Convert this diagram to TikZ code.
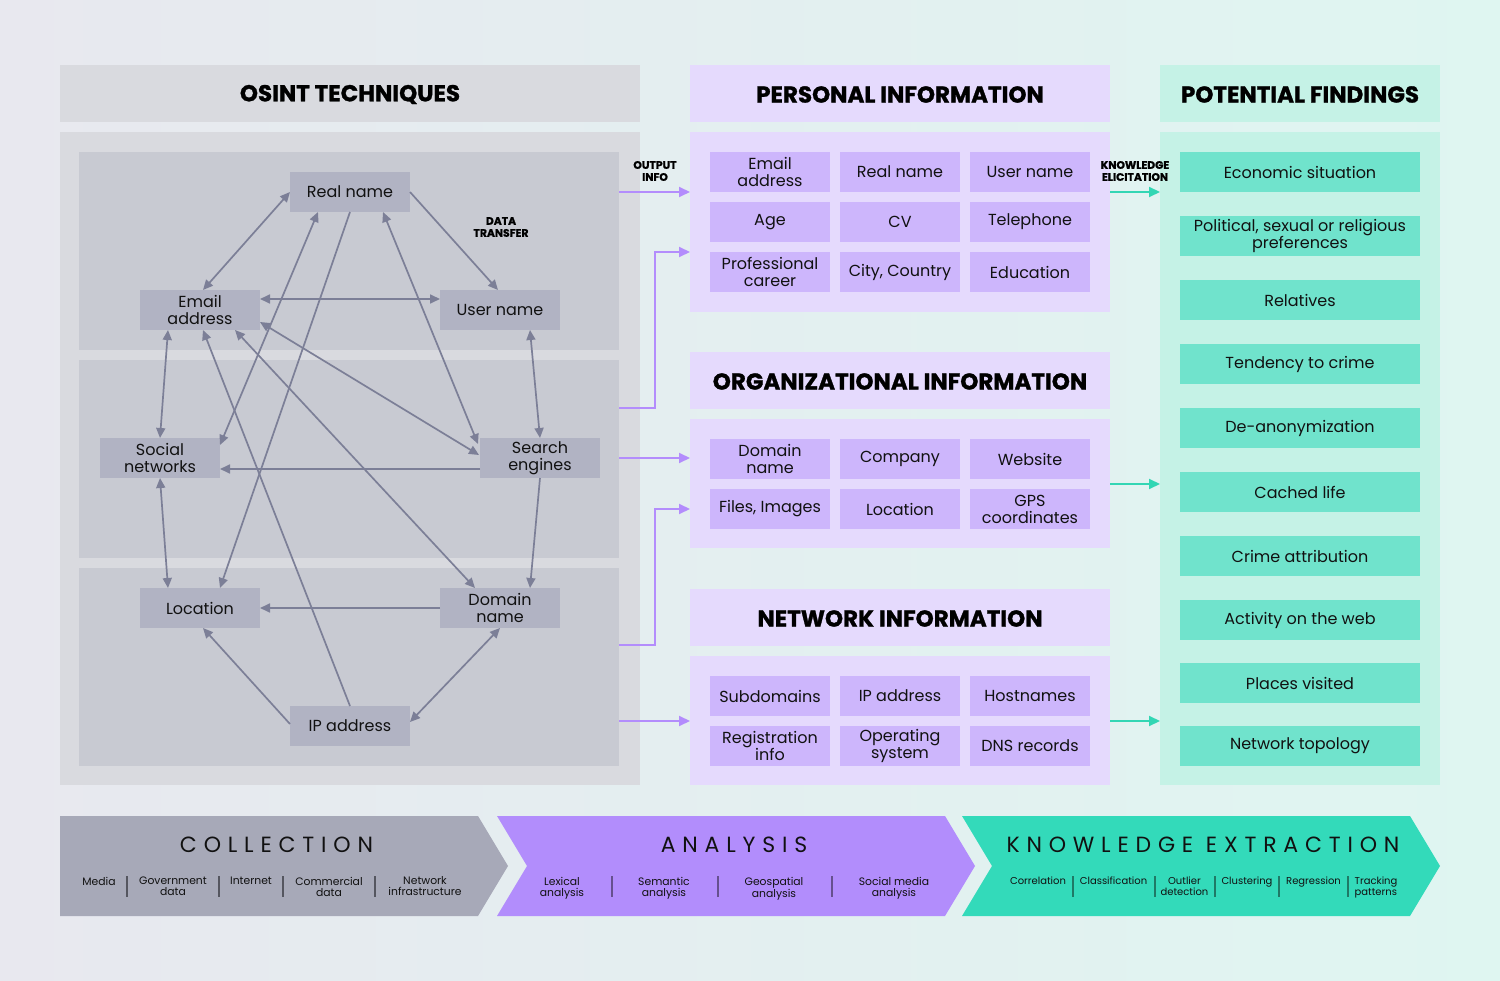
\documentclass[tikz,border=0pt]{standalone}
\usepackage{fontspec}
\setmainfont{Poppins}
\newfontfamily\spcfont{Poppins}[LetterSpace=31]
\newfontfamily\hdrfont{Poppins}[BoldFeatures={FakeBold=1.2}]
\usetikzlibrary{arrows.meta}
\definecolor{bgl}{HTML}{E8E8EF}
\definecolor{bgm}{HTML}{F0EBFC}
\definecolor{bgr}{HTML}{DFF6F1}
\definecolor{opanel}{HTML}{D9DADF}
\definecolor{osub}{HTML}{C8CAD2}
\definecolor{gnodec}{HTML}{B1B3C3}
\definecolor{gline}{HTML}{7C7F97}
\definecolor{ppanel}{HTML}{E5DAFD}
\definecolor{pcell}{HTML}{CDB6FC}
\definecolor{fpanel}{HTML}{C5F2E6}
\definecolor{fcell}{HTML}{70E3CC}
\definecolor{pline}{HTML}{B38DFC}
\definecolor{tline}{HTML}{33D6B4}
\definecolor{chgray}{HTML}{A7A9B8}
\definecolor{chpur}{HTML}{B28DFC}
\definecolor{chteal}{HTML}{33DABA}
\definecolor{sepgray}{HTML}{55565F}
\definecolor{seppur}{HTML}{66508F}
\definecolor{septeal}{HTML}{1F7A66}
\definecolor{txt}{HTML}{111111}
\begin{document}
\begin{tikzpicture}[x=1pt,y=-1pt,
  base/.style={inner sep=0pt, outer sep=0pt, align=center, text=txt},
  panel/.style={base, anchor=north west, fill=#1},
  hdr/.style={font=\hdrfont\fontsize{23}{25}\selectfont\bfseries, text=black},
  gn/.style={base, fill=gnodec, minimum width=120pt, minimum height=40pt, font=\fontsize{16}{17}\selectfont},
  pc/.style={gn, fill=pcell},
  fc/.style={base, fill=fcell, minimum width=240pt, minimum height=40pt, font=\fontsize{16}{17}\selectfont},
  garr/.style={draw=gline, line width=1.7pt, -{Triangle[length=10pt,width=9pt]}},
  garrb/.style={draw=gline, line width=1.7pt, {Triangle[length=10pt,width=9pt]}-{Triangle[length=10pt,width=9pt]}},
  parr/.style={draw=pline, line width=2pt, -{Triangle[length=11pt,width=10pt]}},
  tarr/.style={draw=tline, line width=2pt, -{Triangle[length=11pt,width=10pt]}},
  small/.style={base, font=\hdrfont\fontsize{10.8}{12}\selectfont\bfseries, text=black},
  sub/.style={base, anchor=north, font=\fontsize{10.8}{11}\selectfont},
  subk/.style={base, anchor=north, font=\fontsize{10}{11}\selectfont},
  ttl/.style={base, font=\spcfont\fontsize{22}{24}\selectfont}
]
\useasboundingbox (0,0) rectangle (1500,981);
\shade[left color=bgl, middle color=bgm, right color=bgr] (0,0) rectangle (1500,981);

% ---------- OSINT panel
\node[panel=opanel, minimum width=580pt, minimum height=57pt] (osh) at (60,65) {};
\node[base, hdr] at ([yshift=-1pt]osh.center) {OSINT TECHNIQUES};
\node[panel=opanel, minimum width=580pt, minimum height=653pt] (osb) at (60,132) {};
\node[panel=osub, minimum width=540pt, minimum height=198pt] (sp1) at (79,152) {};
\node[panel=osub, minimum width=540pt, minimum height=198pt] (sp2) at (79,360) {};
\node[panel=osub, minimum width=540pt, minimum height=198pt] (sp3) at (79,568) {};

% graph nodes
\node[gn] (rn) at (350,192) {Real name};
\node[gn] (ea) at (200,310) {Email\\address};
\node[gn] (un) at (500,310) {User name};
\node[gn] (sn) at (160,458) {Social\\networks};
\node[gn] (se) at (540,458) {Search\\engines};
\node[gn] (lo) at (200,608) {Location};
\node[gn] (dn) at (500,608) {Domain\\name};
\node[gn] (ip) at (350,726) {IP address};
\node[small] (dt) at (501,227) {DATA\\TRANSFER};

% graph edges
\draw[garrb] (rn.west) -- ([xshift=3pt]ea.north);
\draw[garr] (rn.east) -- ([xshift=-2pt]un.north);
\draw[garrb] ([yshift=11pt]ea.east) -- ([yshift=11pt]un.west);
\draw[garrb] ([yshift=-12pt]ea.east) -- ([yshift=3pt,xshift=-1pt]se.west);
\draw[garrb] ([xshift=33pt]rn.south) -- ([yshift=-6pt,xshift=-2pt]se.north west);
\draw[garrb] ([xshift=-32pt]rn.south) -- ([yshift=-7pt]sn.north east);
\draw[garr] (rn.south) -- ([xshift=20pt]lo.north);
\draw[garrb] ([xshift=-32pt]ea.south) -- (sn.north);
\draw[garr] (ip.north) -- ([xshift=3pt]ea.south);
\draw[garrb] ([xshift=35pt]ea.south) -- ([xshift=-25pt]dn.north);
\draw[garrb] ([xshift=30pt]un.south) -- (se.north);
\draw[garr] ([yshift=-11pt]se.west) -- ([yshift=-11pt]sn.east);
\draw[garrb] (sn.south) -- ([xshift=-32pt]lo.north);
\draw[garr] (se.south) -- ([xshift=30pt]dn.north);
\draw[garr] (dn.west) -- (lo.east);
\draw[garr] ([yshift=2pt]ip.west) -- ([xshift=3pt]lo.south);
\draw[garrb] ([yshift=4pt]ip.east) -- (dn.south);

% ---------- Personal information
\node[panel=ppanel, minimum width=420pt, minimum height=57pt] (ph) at (690,65) {};
\node[base, hdr] at ([yshift=-1pt]ph.center) {PERSONAL INFORMATION};
\node[panel=ppanel, minimum width=420pt, minimum height=180pt] (pb) at (690,132) {};
\node[pc] (p11) at (770,172) {Email\\address};
\node[pc] (p12) at (900,172) {Real name};
\node[pc] (p13) at (1030,172) {User name};
\node[pc] (p21) at (770,222) {Age};
\node[pc] (p22) at (900,222) {CV};
\node[pc] (p23) at (1030,222) {Telephone};
\node[pc] (p31) at (770,272) {Professional\\career};
\node[pc] (p32) at (900,272) {City, Country};
\node[pc] (p33) at (1030,272) {Education};

% ---------- Organizational information
\node[panel=ppanel, minimum width=420pt, minimum height=57pt] (oh) at (690,352) {};
\node[base, hdr] at ([yshift=-1pt]oh.center) {ORGANIZATIONAL INFORMATION};
\node[panel=ppanel, minimum width=420pt, minimum height=129pt] (ob) at (690,419) {};
\node[pc] (o11) at (770,459) {Domain\\name};
\node[pc] (o12) at (900,459) {Company};
\node[pc] (o13) at (1030,459) {Website};
\node[pc] (o21) at (770,509) {Files, Images};
\node[pc] (o22) at (900,509) {Location};
\node[pc] (o23) at (1030,509) {GPS\\coordinates};

% ---------- Network information
\node[panel=ppanel, minimum width=420pt, minimum height=57pt] (nh) at (690,589) {};
\node[base, hdr] at ([yshift=-1pt]nh.center) {NETWORK INFORMATION};
\node[panel=ppanel, minimum width=420pt, minimum height=129pt] (nb) at (690,656) {};
\node[pc] (n11) at (770,696) {Subdomains};
\node[pc] (n12) at (900,696) {IP address};
\node[pc] (n13) at (1030,696) {Hostnames};
\node[pc] (n21) at (770,746) {Registration\\info};
\node[pc] (n22) at (900,746) {Operating\\system};
\node[pc] (n23) at (1030,746) {DNS records};

% ---------- Potential findings
\node[panel=fpanel, minimum width=280pt, minimum height=57pt] (fh) at (1160,65) {};
\node[base, hdr] at ([yshift=-1pt]fh.center) {POTENTIAL FINDINGS};
\node[panel=fpanel, minimum width=280pt, minimum height=653pt] (fb) at (1160,132) {};
\node[fc] (f1) at (1300,172) {Economic situation};
\node[fc] (f2) at (1300,236) {Political, sexual or religious\\preferences};
\node[fc] (f3) at (1300,300) {Relatives};
\node[fc] (f4) at (1300,364) {Tendency to crime};
\node[fc] (f5) at (1300,428) {De-anonymization};
\node[fc] (f6) at (1300,492) {Cached life};
\node[fc] (f7) at (1300,556) {Crime attribution};
\node[fc] (f8) at (1300,620) {Activity on the web};
\node[fc] (f9) at (1300,683) {Places visited};
\node[fc] (f10) at (1300,746) {Network topology};

% ---------- purple connectors
\coordinate (a1) at (619,192);
\coordinate (a2) at (619,408);
\coordinate (a2t) at (690,252);
\coordinate (a3) at (619,458);
\coordinate (a4) at (619,645);
\coordinate (a4t) at (690,509);
\coordinate (a5) at (619,721);
\draw[parr] (a1) -- (pb.west |- a1);
\draw[parr] (a2) -- ++(36,0) |- (a2t);
\draw[parr] (a3) -- (ob.west |- a3);
\draw[parr] (a4) -- ++(36,0) |- (a4t);
\draw[parr] (a5) -- (nb.west |- a5);
\node[small] (oi) at (655,171) {OUTPUT\\INFO};

% ---------- teal connectors
\coordinate (k1) at (1110,192);
\draw[tarr] (k1) -- (fb.west |- k1);
\coordinate (k2) at (1110,484);
\draw[tarr] (k2) -- (fb.west |- k2);
\coordinate (k3) at (1110,721);
\draw[tarr] (k3) -- (fb.west |- k3);
\node[small] (ke) at (1135,171) {KNOWLEDGE\\ELICITATION};

% ---------- bottom chevrons
\fill[chgray] (60,816) -- (478,816) -- (508,866) -- (478,916) -- (60,916) -- cycle;
\fill[chpur] (497,816) -- (945,816) -- (975,866) -- (945,916) -- (497,916) -- (527,866) -- cycle;
\fill[chteal] (962,816) -- (1410,816) -- (1440,866) -- (1410,916) -- (962,916) -- (992,866) -- cycle;

\node[ttl] (t1) at (276.5,845) {COLLECTION};
\node[ttl] (t2) at (734,845) {ANALYSIS};
\node[ttl] (t3) at (1203,845) {KNOWLEDGE EXTRACTION};

% collection items
\node[sub] at (99,877) {Media};
\node[sub] at (173,877) {Government\\data};
\node[sub] at (251,877) {Internet};
\node[sub] at (329,877) {Commercial\\data};
\node[sub] at (425,877) {Network\\infrastructure};
\foreach \x in {127,219,283,375} \draw[sepgray, line width=1.6pt] (\x,876) -- (\x,897);

% analysis items
\node[sub] at (562,877) {Lexical\\analysis};
\node[sub] at (664,877) {Semantic\\analysis};
\node[sub] at (774,877) {Geospatial\\analysis};
\node[sub] at (894,877) {Social media\\analysis};
\foreach \x in {612,718,832} \draw[seppur, line width=1.6pt] (\x,876) -- (\x,897);

% knowledge items
\node[subk] at (1038,877) {Correlation};
\node[subk] at (1113.5,877) {Classification};
\node[subk] at (1184.5,877) {Outlier\\detection};
\node[subk] at (1247,877) {Clustering};
\node[subk] at (1313.5,877) {Regression};
\node[subk, align=left] at (1376,877) {Tracking\\patterns};
\foreach \x in {1073,1155,1215,1279,1348} \draw[septeal, line width=1.6pt] (\x,876) -- (\x,897);
\end{tikzpicture}
\end{document}
